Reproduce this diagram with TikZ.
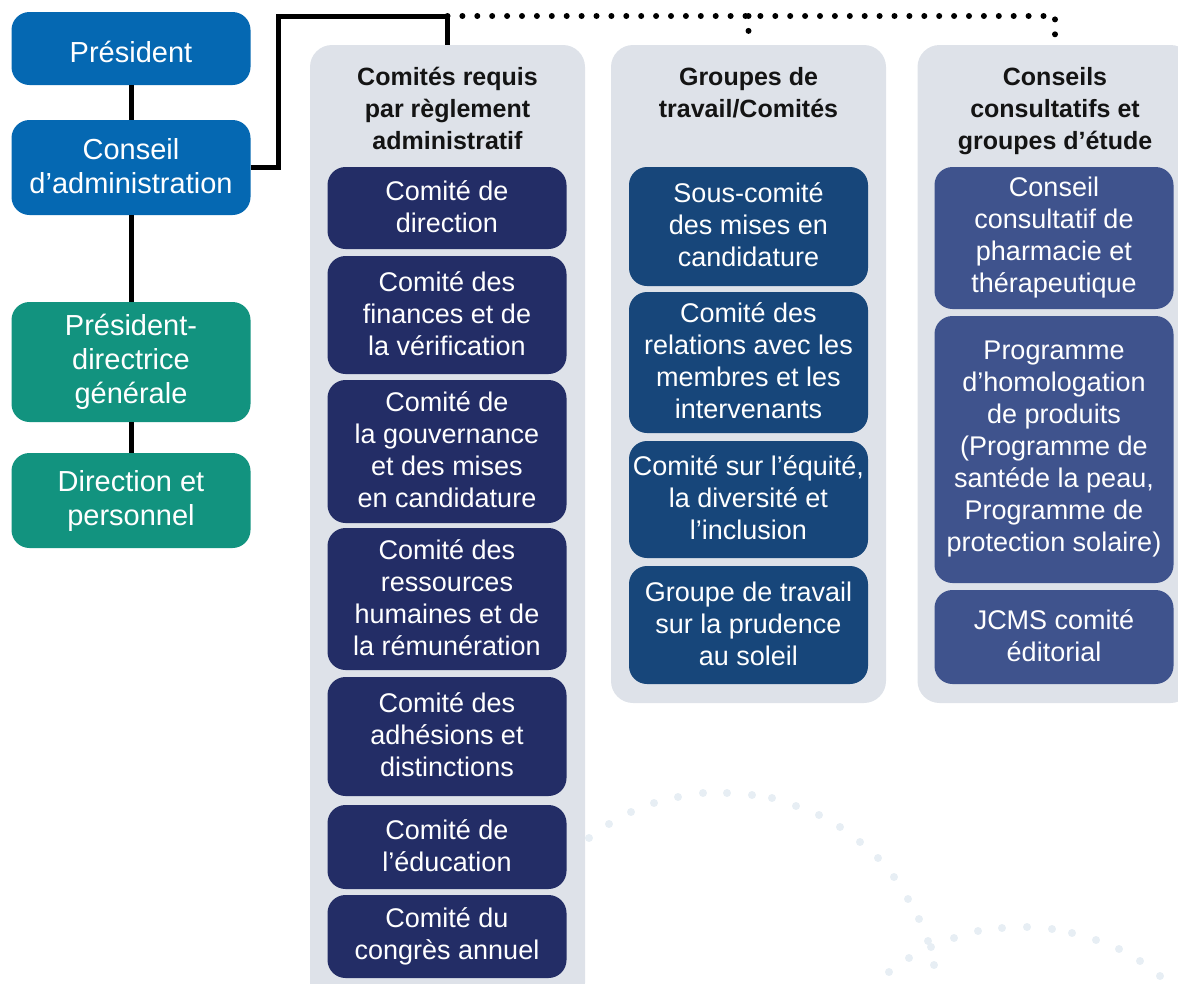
\documentclass[tikz,border=0pt]{standalone}
\usepackage{fontspec}
\setmainfont{Liberation Sans}
\usetikzlibrary{positioning}

\definecolor{presblue}{HTML}{0568B2}
\definecolor{staffgreen}{HTML}{12937F}
\definecolor{bylawnavy}{HTML}{232D66}
\definecolor{workblue}{HTML}{17467A}
\definecolor{advisoryblue}{HTML}{3F538D}
\definecolor{panelgray}{HTML}{DEE2E9}
\definecolor{dotgray}{HTML}{E7EEF4}

\newcommand\boxstrut{\rule[-0.1\baselineskip]{0pt}{\baselineskip}}

\tikzset{
  unit/.style={rounded corners=18pt, text=white, align=center, inner sep=0pt,
    minimum width=239pt, font=\fontsize{27}{32}\selectfont,
    execute at begin node=\boxstrut, execute at end node=\boxstrut},
  lead/.style={unit, font=\fontsize{29}{34}\selectfont},
  panel/.style={fill=panelgray, rounded corners=22pt, minimum width=275pt, inner sep=0pt},
  paneltitle/.style={align=center, inner sep=0pt, text=black!92,
    font=\fontsize{25}{32}\bfseries\selectfont},
  link/.style={line width=5pt},
  dotlink/.style={line width=6pt, line cap=round, dash pattern=on 0pt off 14.9pt},
}

\begin{document}
\begin{tikzpicture}[x=1pt, y=-1pt]
\useasboundingbox (0,0) rectangle (1178,983);
\clip (0,0) rectangle (1178,983);

% background dots
\foreach \p in {(589,838),(609,824),(631,812),(654,803),(678,797),(703,793),(727,793),
  (752,795),(772,798),(796,806),(819,815),(840,827),(860,842),(878,858),(894,877),
  (908,899),(919,919),(928,941),(934,965),
  (889,972),(909,958),(931,947),(954,938),(978,931),(1002,928),(1027,927),(1052,929),
  (1072,933),(1096,940),(1119,949),(1140,961),(1160,976)}
  \fill[dotgray] \p circle (4pt);

% left column
\node[lead, fill=presblue, minimum height=73pt] (pres) at (131,48.5) {Président};
\node[lead, fill=presblue, minimum height=95pt] (board) at (131,167.5) {Conseil\\d’administration};
\node[lead, fill=staffgreen, minimum height=120pt] (ceo) at (131,362) {Président-\\directrice\\générale};
\node[lead, fill=staffgreen, minimum height=95pt] (staff) at (131,500.5) {Direction et\\personnel};

\draw[link] (pres) -- (board);
\draw[link] (board) -- (ceo);
\draw[link] (ceo) -- (staff);

% panels
\node[panel, minimum height=960pt] (bylaw) at (447.5,525) {};
\node[panel, minimum height=658pt] (work) at (748.5,374) {};
\node[panel, minimum height=658pt] (advisory) at (1055,374) {};

\node[paneltitle, below=22pt of bylaw.north] (bylawtitle) {Comités requis\\par règlement\\administratif};
\node[paneltitle, below=22pt of work.north] (worktitle) {Groupes de\\travail/Comités};
\node[paneltitle, below=22pt of advisory.north] (advisorytitle) {Conseils\\consultatifs et\\groupes d’étude};

% connectors
\coordinate (bus) at (bylaw.north |- 0,16);
\draw[link] (board.east) -| (278,16) -| (bylaw.north);
\draw[dotlink] (bus) -- (advisory.north |- bus) -- (advisory.north);
\draw[dotlink] (work.north |- bus) -- (work.north);

% statutory committees
\node[unit, fill=bylawnavy, minimum height=82pt] (exec) at (447,208) {Comité de\\direction};
\node[unit, fill=bylawnavy, minimum height=118pt] (audit) at (447,315) {Comité des\\finances et de\\la vérification};
\node[unit, fill=bylawnavy, minimum height=143pt] (gov) at (447,451.5) {Comité de\\la gouvernance\\et des mises\\en candidature};
\node[unit, fill=bylawnavy, minimum height=142pt] (hr) at (447,599) {Comité des\\ressources\\humaines et de\\la rémunération};
\node[unit, fill=bylawnavy, minimum height=119pt] (members) at (447,736.5) {Comité des\\adhésions et\\distinctions};
\node[unit, fill=bylawnavy, minimum height=84pt] (edu) at (447,847) {Comité de\\l’éducation};
\node[unit, fill=bylawnavy, minimum height=83pt] (congress) at (447,936.5) {Comité du\\congrès annuel};

% working groups
\node[unit, fill=workblue, minimum height=119pt] (nomsub) at (748.5,226.5) {Sous-comité\\des mises en\\candidature};
\node[unit, fill=workblue, minimum height=141pt] (relations) at (748.5,362.5) {Comité des\\relations avec les\\membres et les\\intervenants};
\node[unit, fill=workblue, minimum height=117pt] (equity) at (748.5,499.5) {Comité sur l’équité,\\la diversité et\\l’inclusion};
\node[unit, fill=workblue, minimum height=118pt] (sun) at (748.5,625) {Groupe de travail\\sur la prudence\\au soleil};

% advisory boards
\node[unit, fill=advisoryblue, minimum height=142pt] (pharma) at (1054,238) {Conseil\\consultatif de\\pharmacie et\\thérapeutique};
\node[unit, fill=advisoryblue, minimum height=267pt] (products) at (1054,449.5) {Programme\\d’homologation\\de produits\\(Programme de\\santéde la peau,\\Programme de\\protection solaire)};
\node[unit, fill=advisoryblue, minimum height=94pt] (jcms) at (1054,637) {JCMS comité\\éditorial};
\end{tikzpicture}
\end{document}
